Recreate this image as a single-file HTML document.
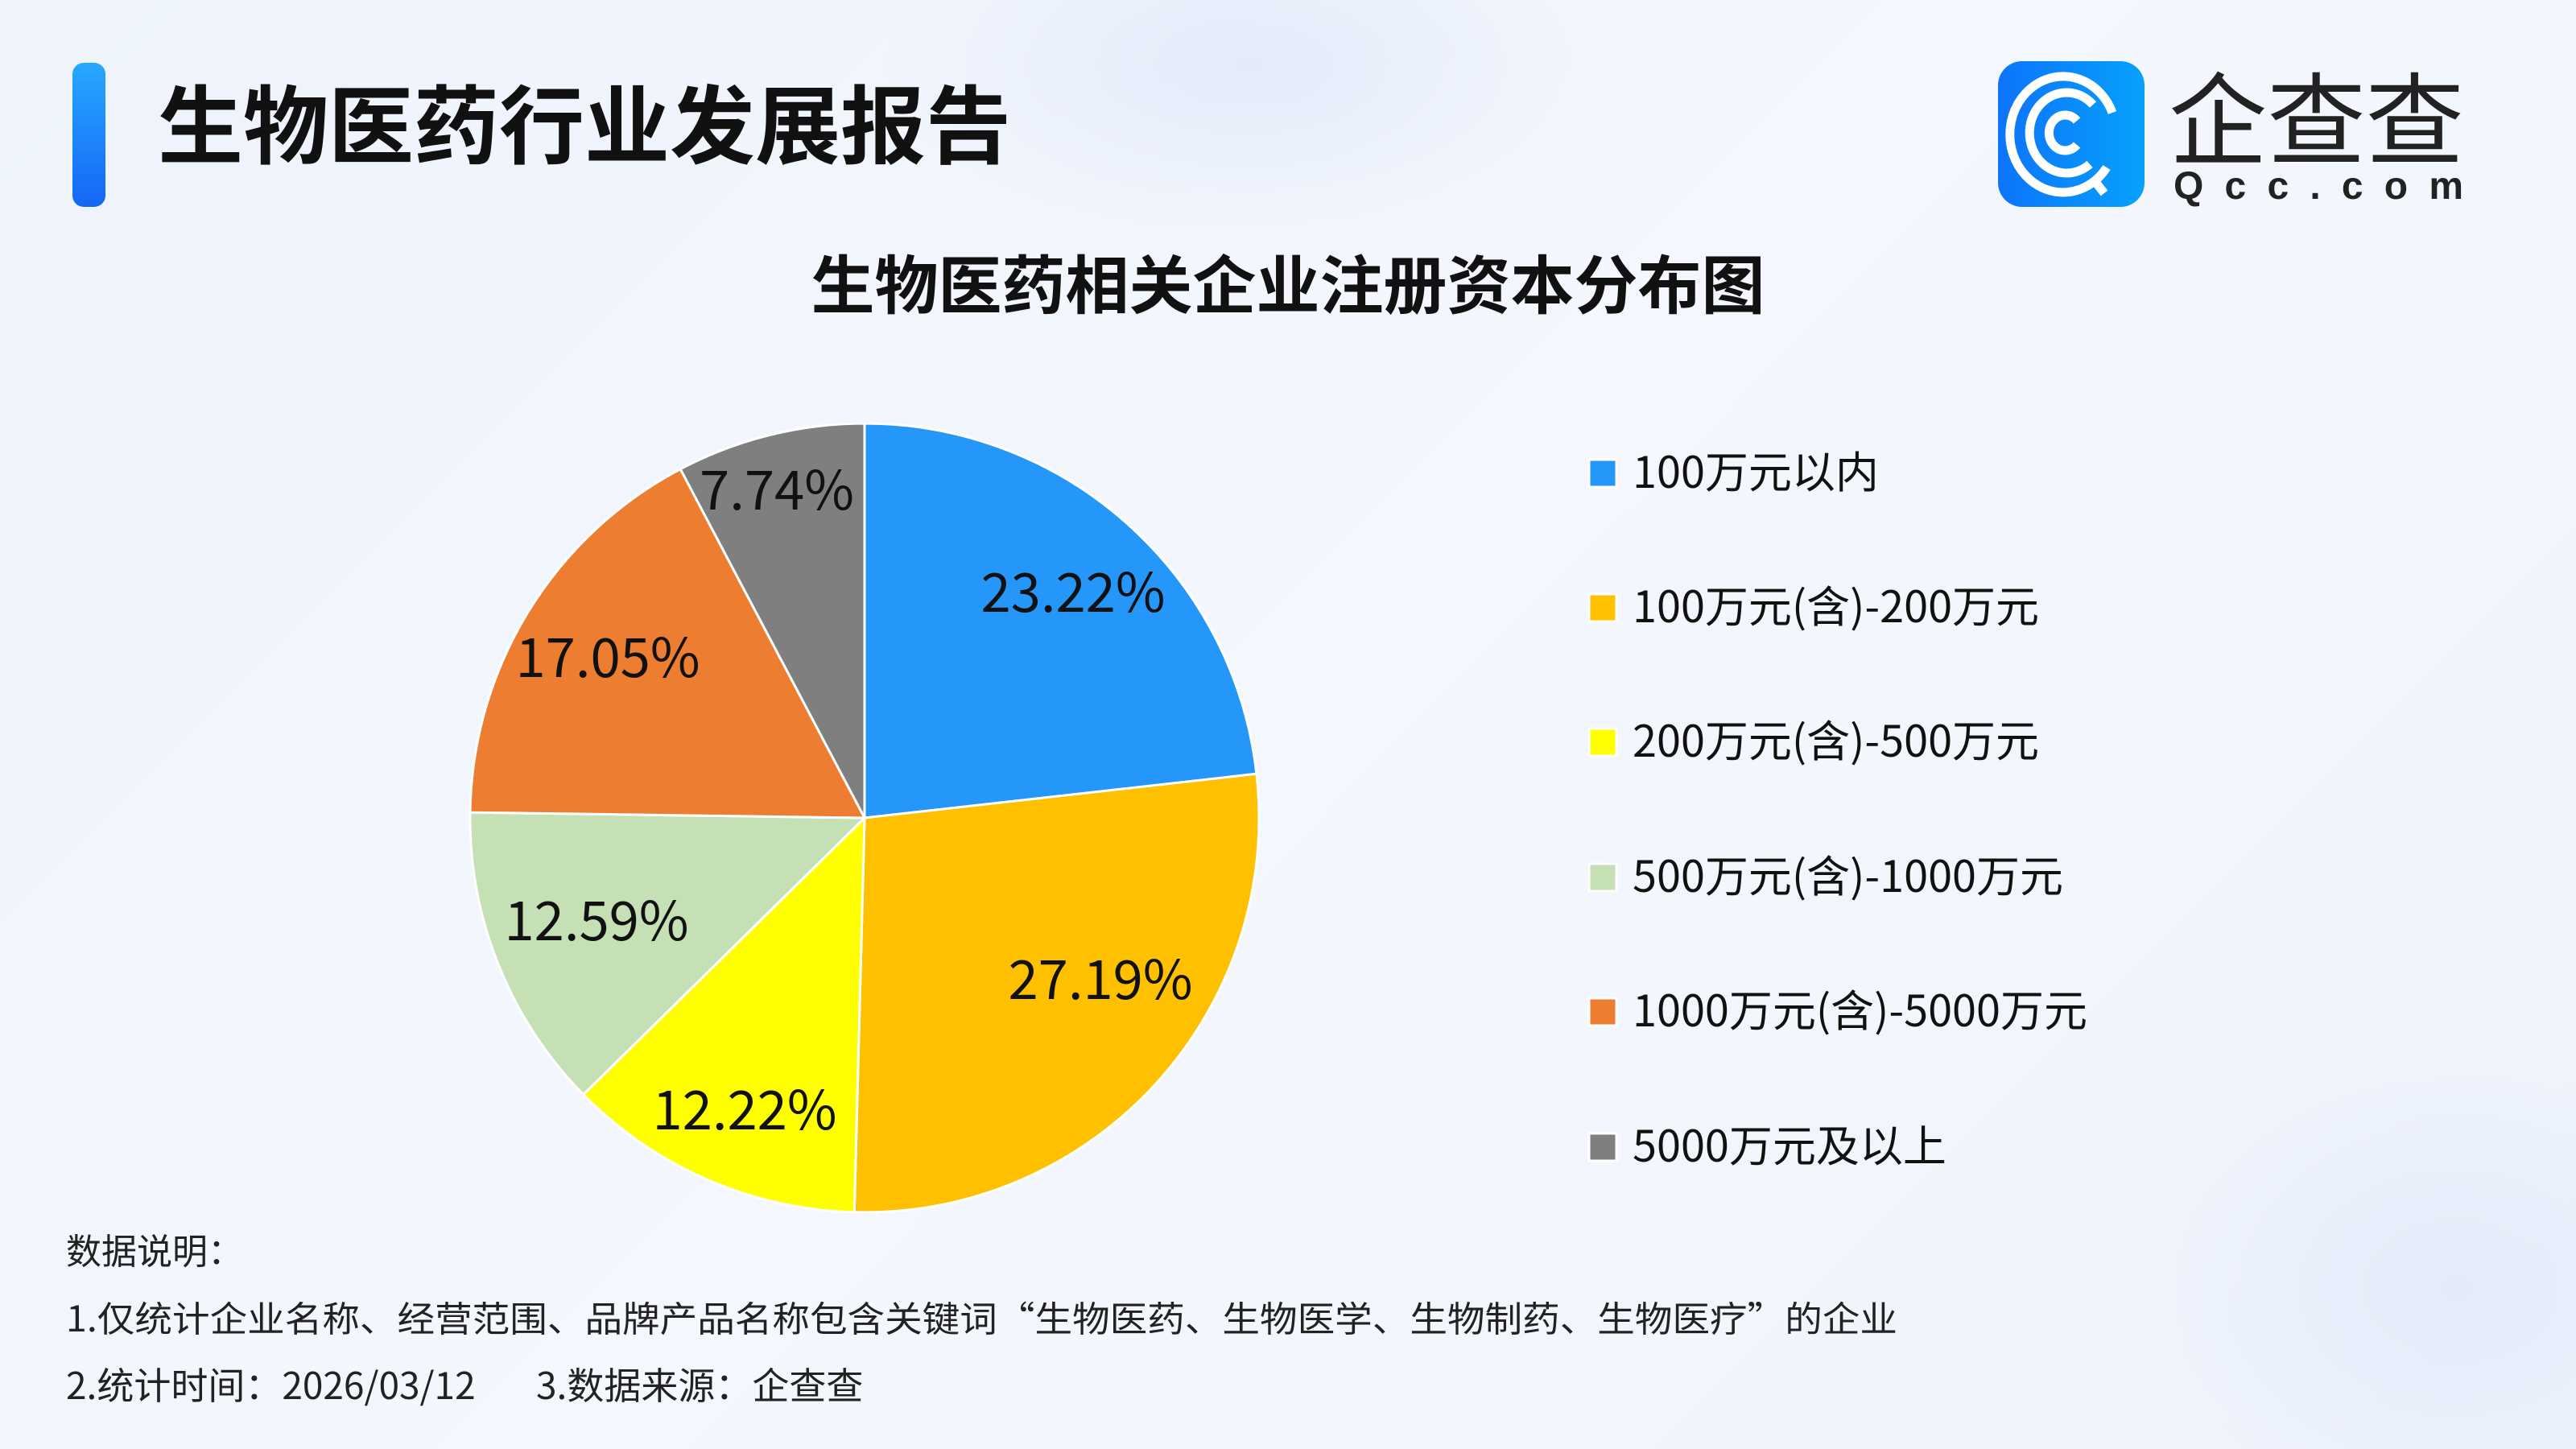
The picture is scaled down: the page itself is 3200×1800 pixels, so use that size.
<!DOCTYPE html>
<html><head><meta charset="utf-8"><style>
html,body{margin:0;padding:0;width:3200px;height:1800px;overflow:hidden}
body{background:linear-gradient(135deg,#eef3fc 0%,#f4f7fd 50%,#eef3fc 100%);font-family:"Liberation Sans","Noto Sans CJK SC",sans-serif}
svg{display:block}
</style></head><body>
<svg width="3200" height="1800" viewBox="0 0 3200 1800" xmlns="http://www.w3.org/2000/svg" style="position:absolute;left:0;top:0">
<defs>
<linearGradient id="bar" x1="0" y1="0" x2="0" y2="1"><stop offset="0" stop-color="#27a8ff"/><stop offset="1" stop-color="#1466f5"/></linearGradient>
<linearGradient id="lg" x1="0" y1="0" x2="1" y2="0"><stop offset="0" stop-color="#0d74fb"/><stop offset="1" stop-color="#06a1fb"/></linearGradient>
<radialGradient id="blob" cx="0.5" cy="0.5" r="0.5"><stop offset="0" stop-color="#e3ebfa"/><stop offset="1" stop-color="#e3ebfa" stop-opacity="0"/></radialGradient>
</defs>
<ellipse cx="1550" cy="80" rx="450" ry="220" fill="url(#blob)"/>
<ellipse cx="3050" cy="1600" rx="400" ry="300" fill="url(#blob)"/>
<rect x="90" y="78" width="41" height="179" rx="14" fill="url(#bar)"/>
<text x="196" y="195" font-size="106" font-weight="bold" fill="#111" font-family="Liberation Sans,Noto Sans CJK SC,sans-serif">生物医药行业发展报告</text>
<rect x="2482" y="76" width="182" height="181" rx="30" fill="url(#lg)"/>
<g fill="none" stroke="#fff" stroke-width="11" stroke-linecap="butt">
<path d="M2617 208 A66 72 0 1 1 2624 140"/>
<path d="M2596 204 A46 50 0 1 1 2600 130"/>
<path d="M2580 180 A20 22 0 1 1 2580 150"/>
<path d="M2600 222 L2614 240"/>
</g>
<text x="2694" y="195" font-size="125" fill="#222" font-family="Noto Sans CJK SC,sans-serif" textLength="367" lengthAdjust="spacingAndGlyphs">企查查</text>
<text x="2700" y="247" font-size="48" fill="#222" font-weight="bold" textLength="360" lengthAdjust="spacing" font-family="Liberation Sans,sans-serif">Qcc.com</text>
<text x="1600" y="383" text-anchor="middle" font-size="79" font-weight="bold" fill="#111" font-family="Liberation Sans,Noto Sans CJK SC,sans-serif">生物医药相关企业注册资本分布图</text>
<g stroke="#fff" stroke-width="3" stroke-linejoin="round">
<path d="M1074 1016 L1074 526 A490 490 0 0 1 1560.9 961.3 Z" fill="#2596fa"/>
<path d="M1074 1016 L1560.9 961.3 A490 490 0 0 1 1061.3 1505.8 Z" fill="#ffc000"/>
<path d="M1074 1016 L1061.3 1505.8 A490 490 0 0 1 724.7 1359.7 Z" fill="#ffff00"/>
<path d="M1074 1016 L724.7 1359.7 A490 490 0 0 1 584 1009.2 Z" fill="#c5e0b4"/>
<path d="M1074 1016 L584 1009.2 A490 490 0 0 1 845.2 582.7 Z" fill="#ed7d31"/>
<path d="M1074 1016 L845.2 582.7 A490 490 0 0 1 1074 526 Z" fill="#7f7f7f"/>
</g>
<g font-size="67" fill="#111" text-anchor="middle" font-family="Noto Sans CJK SC,sans-serif">
<text x="1333" y="760">23.22%</text>
<text x="1367" y="1241">27.19%</text>
<text x="925" y="1403">12.22%</text>
<text x="741" y="1168">12.59%</text>
<text x="755" y="841">17.05%</text>
<text x="965" y="633">7.74%</text>
</g>
<g stroke="#fff" stroke-width="3">
<rect x="1974" y="571" width="34" height="34" fill="#2596fa"/>
<rect x="1974" y="738" width="34" height="34" fill="#ffc000"/>
<rect x="1974" y="905" width="34" height="34" fill="#ffff00"/>
<rect x="1974" y="1073" width="34" height="34" fill="#c5e0b4"/>
<rect x="1974" y="1240" width="34" height="34" fill="#ed7d31"/>
<rect x="1974" y="1408" width="34" height="34" fill="#7f7f7f"/>
</g>
<g font-size="54" fill="#111" font-family="Noto Sans CJK SC,sans-serif">
<text x="2028" y="606">100万元以内</text>
<text x="2028" y="773">100万元(含)-200万元</text>
<text x="2028" y="940">200万元(含)-500万元</text>
<text x="2028" y="1108">500万元(含)-1000万元</text>
<text x="2028" y="1275">1000万元(含)-5000万元</text>
<text x="2028" y="1443">5000万元及以上</text>
</g>
<g font-size="44" fill="#222" font-family="Noto Sans CJK SC,sans-serif">
<text x="82" y="1570">数据说明：</text>
<text x="82" y="1654" textLength="2275" lengthAdjust="spacingAndGlyphs">1.仅统计企业名称、经营范围、品牌产品名称包含关键词“生物医药、生物医学、生物制药、生物医疗”的企业</text>
<text x="82" y="1738" font-size="46">2.统计时间：2026/03/12</text>
<text x="666" y="1738" font-size="46">3.数据来源：企查查</text>
</g>
</svg>
</body></html>
